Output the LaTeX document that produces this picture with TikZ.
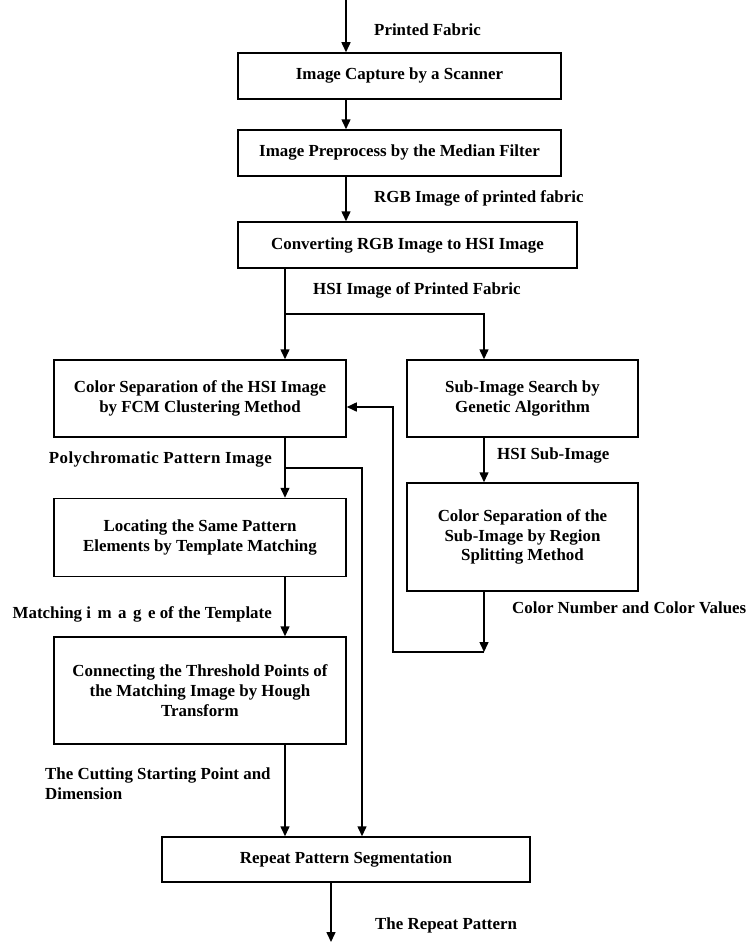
\documentclass[tikz,border=0pt]{standalone}
\usepackage{fontspec}
\setmainfont{Liberation Serif}
\usetikzlibrary{arrows.meta}
\begin{document}
\begin{tikzpicture}[x=1pt,y=-1pt,
  every node/.style={font=\fontsize{16.9}{19.8}\selectfont\bfseries},
  box/.style={draw,line width=1.5pt,inner sep=0pt,align=center},
  lab/.style={inner sep=0pt,anchor=west,align=left},
  conn/.style={line width=1.5pt},
  arr/.style={line width=1.5pt,-{Triangle[length=10pt,width=9pt]}}]
\path[use as bounding box] (0,0) rectangle (748,942);

% boxes
\node[box,minimum width=323,minimum height=46] (b1) at (399.5,76) {Image Capture by a Scanner};
\node[box,minimum width=323,minimum height=46] (b2) at (399.5,153) {Image Preprocess by the Median Filter};
\node[box,minimum width=339,minimum height=46] (b3) at (407.5,245) {Converting RGB Image to HSI Image};
\node[box,minimum width=292,minimum height=77] (fcm) at (200,398.5) {Color Separation of the HSI Image\\by FCM Clustering Method};
\node[box,minimum width=231,minimum height=77] (sub) at (522.5,398.5) {Sub-Image Search by\\Genetic Algorithm};
\node[box,minimum width=231,minimum height=108] (reg) at (522.5,537) {Color Separation of the\\Sub-Image by Region\\Splitting Method};
\node[box,minimum width=292,minimum height=78] (loc) at (200,537.5) {Locating the Same Pattern\\Elements by Template Matching};
\node[box,minimum width=292,minimum height=107] (hough) at (200,690.5) {Connecting the Threshold Points of\\the Matching Image by Hough\\Transform};
\node[box,minimum width=368,minimum height=45] (rep) at (346,859.5) {Repeat Pattern Segmentation};

% labels
\node[lab] (l1) at (374,30) {Printed Fabric};
\node[lab] (l2) at (374,198) {RGB Image of printed fabric};
\node[lab] (l3) at (313,290) {HSI Image of Printed Fabric};
\node[lab] (l4) at (497,455) {HSI Sub-Image};
\node[lab] (l5) at (512,608) {Color Number and Color Values};
\node[lab,anchor=east] (l6) at (272,459) {\addfontfeature{LetterSpace=2.5}Polychromatic Pattern Image};
\node[lab,anchor=east] (l7) at (272,614) {Matching i\hspace{6.5pt}m\hspace{6.5pt}a\hspace{6.5pt}g\hspace{6.5pt}e of the Template};
\node[lab,anchor=north west] (l8) at (45,768) {The Cutting Starting Point and\\Dimension};
\node[lab] (l9) at (375,925) {The Repeat Pattern};

% coordinates
\coordinate (top) at (346,0);
\coordinate (split) at (285,314);
\coordinate (splitr) at (484,314);
\coordinate (fb) at (484,652);
\coordinate (fbl) at (393,652);
\coordinate (fbu) at (393,407);
\coordinate (br) at (285,468);
\coordinate (brr) at (362,468);
\coordinate (bot) at (331,942);

% connectors
\draw[arr] (top) -- (top |- b1.north);
\draw[arr] (top |- b1.south) -- (top |- b2.north);
\draw[arr] (top |- b2.south) -- (top |- b3.north);
\draw[conn] (split |- b3.south) -- (split);
\draw[arr] (split) -- (split |- fcm.north);
\draw[arr] (split) -- (splitr) -- (splitr |- sub.north);
\draw[arr] (splitr |- sub.south) -- (splitr |- reg.north);
\draw[arr] (splitr |- reg.south) -- (fb);
\draw[arr] (fb) -- (fbl) -- (fbu) -- (fbu -| fcm.east);
\draw[arr] (split |- fcm.south) -- (split |- loc.north);
\draw[arr] (br) -- (brr) -- (brr |- rep.north);
\draw[arr] (split |- loc.south) -- (split |- hough.north);
\draw[arr] (split |- hough.south) -- (split |- rep.north);
\draw[arr] (bot |- rep.south) -- (bot);
\end{tikzpicture}
\end{document}
